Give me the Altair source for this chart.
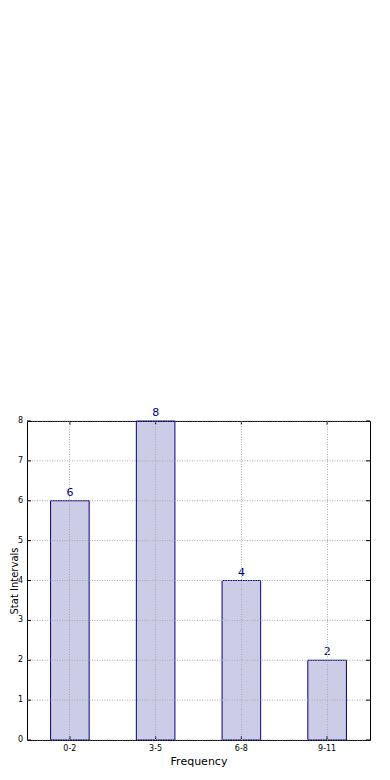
import altair as alt
import pandas as pd

categories = ["0-2", "3-5", "6-8", "9-11"]
values = [6, 8, 4, 2]
y_ticks = [0, 1, 2, 3, 4, 5, 6, 7, 8]

bars_df = pd.DataFrame({"interval": categories, "count": values})
yt_df = pd.DataFrame({"t": y_ticks})
xt_df = pd.DataFrame({"interval": categories})

NAVY = "#000080"
FONT = "DejaVu Sans"
GRID = "#a8a8a8"
W, H = 343, 319

xscale = alt.Scale(domain=categories, paddingInner=0.55, paddingOuter=0.275)
yscale = alt.Scale(domain=[0, 8], nice=False)

x_axis = alt.Axis(
    title="Frequency", labelAngle=0, labelFontSize=8, labelFont=FONT,
    labelColor="black", labelPadding=4, ticks=False, domain=False,
    grid=True, gridColor=GRID, gridDash=[1, 1.5], gridWidth=1,
    bandPosition=0.5, zindex=1, labelOverlap=False,
    titleFont=FONT, titleFontSize=11, titleFontWeight="normal",
    titleColor="black", titleY=24, titleBaseline="alphabetic",
)
y_axis = alt.Axis(
    title="Stat Intervals", labels=False, ticks=False, domain=False, grid=False,
    titleFont=FONT, titleFontSize=10, titleFontWeight="normal",
    titleColor="black", titleX=-9.5, titleBaseline="alphabetic", titleAngle=270,
)

X = alt.X("interval:N", scale=xscale, axis=x_axis, sort=categories)
Y_bar = alt.Y("count:Q", scale=yscale, axis=y_axis)
Y_t = alt.Y("t:Q", scale=yscale, axis=y_axis)
X_t = alt.X("interval:N", scale=xscale, axis=x_axis, sort=categories, bandPosition=0.5)

bars = alt.Chart(bars_df).mark_bar(
    fill=NAVY, fillOpacity=0.2, stroke=NAVY, strokeWidth=1
).encode(x=X, y=Y_bar)

labels = alt.Chart(bars_df).mark_text(
    dy=-5, fontSize=11, font=FONT, color=NAVY, baseline="alphabetic"
).encode(x=X, y=Y_bar, text=alt.Text("count:Q"))

y_grid = alt.Chart(yt_df).mark_rule(
    color=GRID, strokeDash=[1, 1.5], strokeWidth=1
).encode(y=Y_t, x=alt.value(0), x2=alt.value(W))

y_labels = alt.Chart(yt_df).mark_text(
    align="right", baseline="middle", fontSize=8, font=FONT, color="black"
).encode(y=Y_t, x=alt.value(-4), text=alt.Text("t:Q"))

tick_style = dict(color="black", strokeWidth=1)
yt_left = alt.Chart(yt_df).mark_rule(**tick_style).encode(
    y=Y_t, x=alt.value(0), x2=alt.value(4))
yt_right = alt.Chart(yt_df).mark_rule(**tick_style).encode(
    y=Y_t, x=alt.value(W - 4), x2=alt.value(W))
xt_bottom = alt.Chart(xt_df).mark_rule(**tick_style).encode(
    x=X_t, y=alt.value(H - 4), y2=alt.value(H))
xt_top = alt.Chart(xt_df).mark_rule(**tick_style).encode(
    x=X_t, y=alt.value(0), y2=alt.value(4))

chart = alt.layer(
    bars, y_grid, labels, y_labels, yt_left, yt_right, xt_bottom, xt_top
).properties(
    width=W, height=H,
    autosize=alt.AutoSizeParams(type="none"),
    padding={"left": 19, "top": 413, "right": 12, "bottom": 32},
    background="white",
).configure_view(stroke="black", strokeWidth=1)

chart.save("out.html", embed_options={"renderer": "svg", "actions": False})
